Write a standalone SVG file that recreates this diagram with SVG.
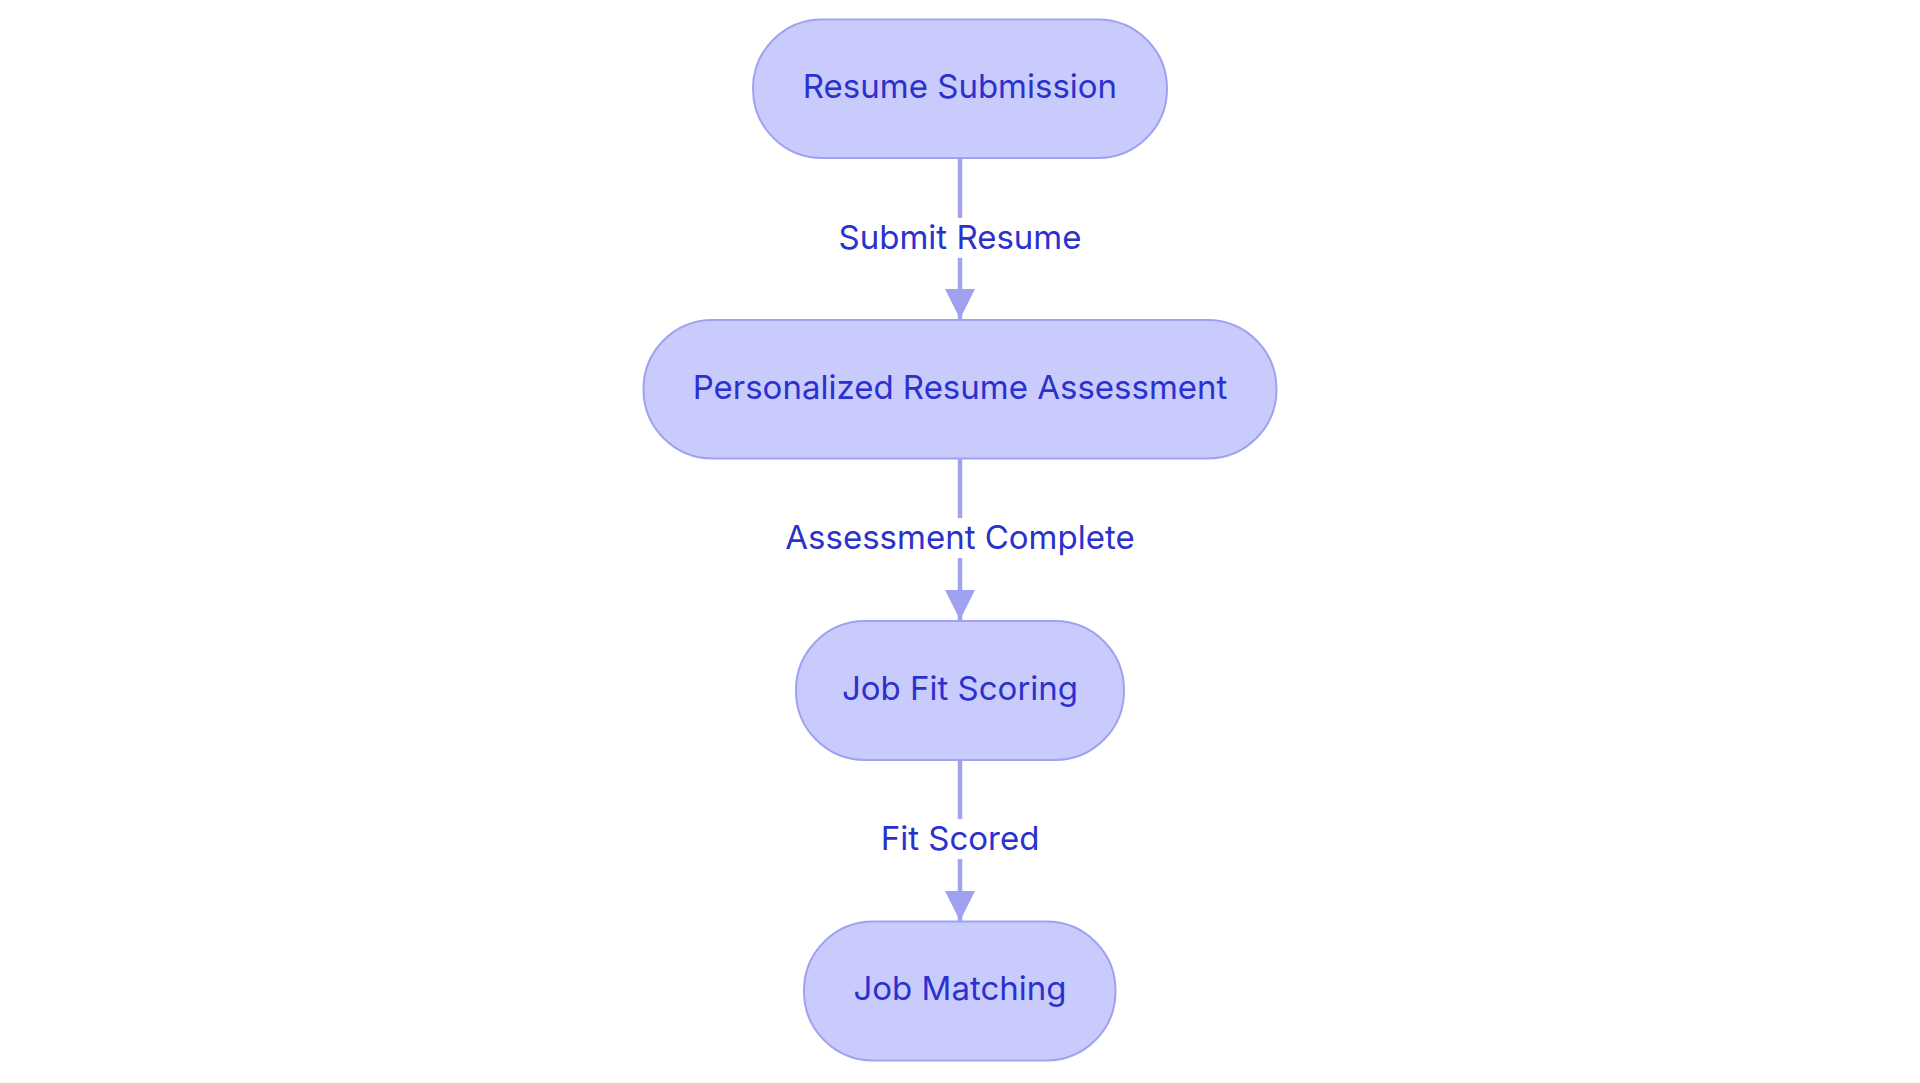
<svg xmlns="http://www.w3.org/2000/svg" width="1920" height="1083" viewBox="0 0 1920 1083">
<style>
.node rect{fill:#cacbfd;stroke:#9ea2f0;stroke-width:2}
.node text,.lbl text{font-family:Inter,"Noto Sans","Liberation Sans",sans-serif;font-size:33px;fill:#2b31cc;text-anchor:middle}
.edge{stroke:#9ea2f0;stroke-width:4.5;fill:none}
.lbl rect{fill:#ffffff}
</style>
<defs>
<marker id="arr" markerUnits="userSpaceOnUse" markerWidth="32" markerHeight="30" refX="30" refY="15" orient="auto">
<path d="M0,0 L30,15 L0,30 Z" fill="#9ea2f0"/>
</marker>
</defs>
<rect width="1920" height="1083" fill="#ffffff"/>
<g id="connectors">
<line class="edge" x1="960" y1="158" x2="960" y2="319" marker-end="url(#arr)"/>
<line class="edge" x1="960" y1="458" x2="960" y2="620" marker-end="url(#arr)"/>
<line class="edge" x1="960" y1="760" x2="960" y2="921" marker-end="url(#arr)"/>
<g class="lbl"><rect x="830" y="218" width="260" height="40"/><text x="960" y="249">Submit Resume</text></g>
<g class="lbl"><rect x="775" y="518" width="370" height="40"/><text x="960" y="549">Assessment Complete</text></g>
<g class="lbl"><rect x="875" y="819" width="170" height="40"/><text x="960" y="850">Fit Scored</text></g>
</g>
<g id="node1" class="node"><rect x="753" y="19.5" width="414" height="138.5" rx="69" ry="69"/><text x="960" y="98">Resume Submission</text></g>
<g id="node2" class="node"><rect x="643.5" y="320" width="633" height="138.5" rx="69" ry="69"/><text x="960" y="399">Personalized Resume Assessment</text></g>
<g id="node3" class="node"><rect x="796" y="621" width="328" height="139" rx="69" ry="69"/><text x="960" y="700">Job Fit Scoring</text></g>
<g id="node4" class="node"><rect x="804" y="921.5" width="311.5" height="139" rx="69" ry="69"/><text x="960" y="1000">Job Matching</text></g>
</svg>
